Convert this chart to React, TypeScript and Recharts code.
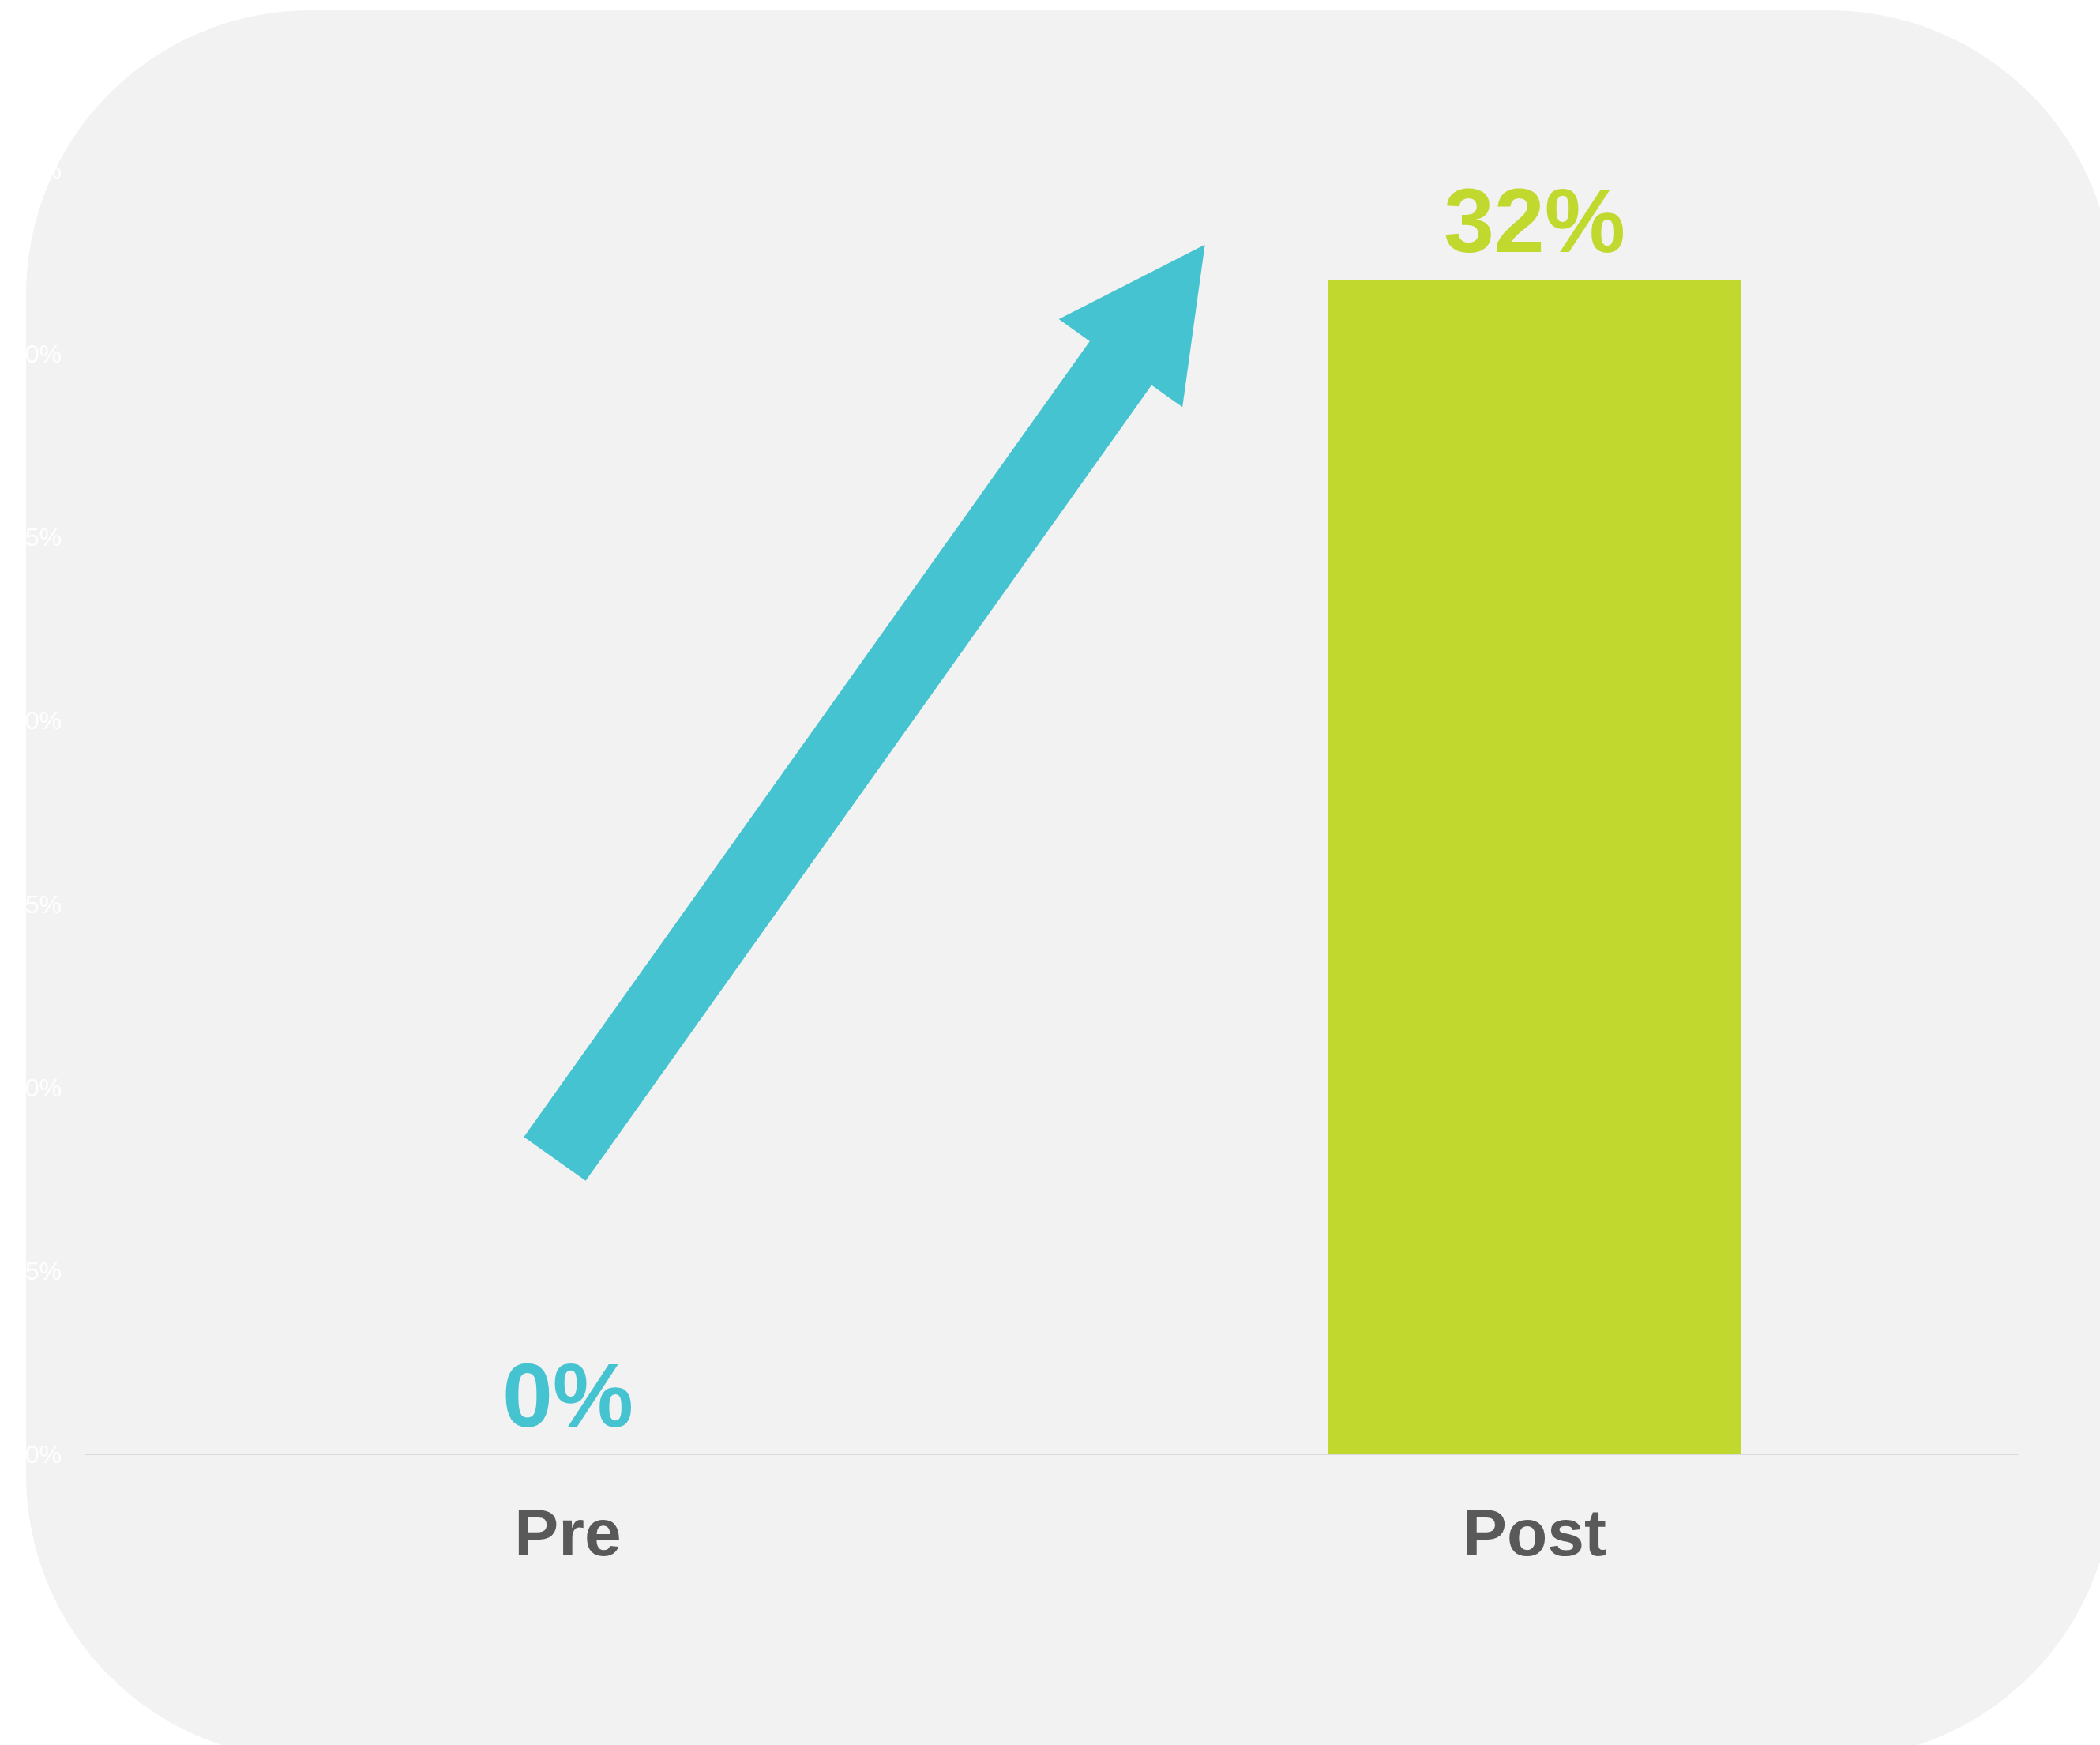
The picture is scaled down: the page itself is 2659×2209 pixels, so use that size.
import { ComposedChart, Bar, Line, XAxis, YAxis, Cell, LabelList, ReferenceLine } from "recharts"

const categories = ["Pre", "Post"]
const values = [0, 32]
const barColors = ["#45c3d0", "#c1d82f"]
const yTicks = [0, 5, 10, 15, 20, 25, 30, 35]

// arrow annotation, x in category units (0 = Pre, 1 = Post), y in %
const arrowFrom = { x: -0.0135, y: 8.05 }
const arrowTo = { x: 0.659, y: 32.96 }

const data = categories.map((name, i) => ({ name, value: values[i] }))

// hidden numeric axis spans the plot width: 0 = left edge, 1 = right edge
const toPlot = (p: { x: number; y: number }) => ({ x: (p.x + 0.5) / categories.length, y: p.y })

const FONT = "'Liberation Sans', Arial, sans-serif"

const ArrowShape = (props: any) => {
  const { x1, y1, x2, y2 } = props
  const dx = x2 - x1
  const dy = y2 - y1
  const len = Math.hypot(dx, dy)
  const ux = dx / len
  const uy = dy / len
  const px = -uy
  const py = ux
  const shaft = 48
  const head = 96
  const headLen = 184
  const bx = x2 - ux * headLen
  const by = y2 - uy * headLen
  const pts = [
    [x1 + px * shaft, y1 + py * shaft],
    [bx + px * shaft, by + py * shaft],
    [bx + px * head, by + py * head],
    [x2, y2],
    [bx - px * head, by - py * head],
    [bx - px * shaft, by - py * shaft],
    [x1 - px * shaft, y1 - py * shaft],
  ]
  return <polygon points={pts.map((p) => p.join(",")).join(" ")} fill="#45c3d0" />
}

const ValueLabel = (props: any) => {
  const { x, y, value, index } = props
  return (
    <text
      x={x}
      y={y - 35}
      textAnchor="middle"
      fill={barColors[index]}
      fontFamily={FONT}
      fontWeight="bold"
      fontSize={115}
    >
      {value}%
    </text>
  )
}

export default function App() {
  return (
    <div
      style={{
        position: "absolute",
        left: 0,
        top: 0,
        width: 2659,
        height: 2209,
        overflow: "hidden",
        background: "#ffffff",
      }}
    >
      <div
        style={{
          position: "absolute",
          left: 33,
          top: 13,
          width: 2643,
          height: 2214,
          borderRadius: 360,
          background: "#f2f2f2",
        }}
      />
      <div style={{ position: "absolute", left: 0, top: 0 }}>
        <ComposedChart width={2659} height={2209} data={data} margin={{ top: 215, right: 104, bottom: 268, left: 0 }}>
          <XAxis
            dataKey="name"
            axisLine={{ stroke: "#d9d9d9", strokeWidth: 2 }}
            tickLine={false}
            tickSize={0}
            tickMargin={68}
            height={100}
            tick={{ fill: "#595959", fontSize: 84, fontWeight: "bold", fontFamily: FONT }}
          />
          <XAxis xAxisId="arrow" type="number" domain={[0, 1]} allowDataOverflow hide />
          <YAxis
            domain={[0, 35]}
            ticks={yTicks}
            width={107}
            axisLine={false}
            tickLine={false}
            tickSize={0}
            tickMargin={29}
            tickFormatter={(v) => `${v}%`}
            tick={{ fill: "#ffffff", fontSize: 32, fontFamily: FONT }}
          />
          <Bar dataKey="value" barSize={524} isAnimationActive={false}>
            {data.map((d, i) => (
              <Cell key={d.name} fill={barColors[i]} />
            ))}
          </Bar>
          <Line dataKey="value" stroke="none" dot={false} activeDot={false} isAnimationActive={false}>
            <LabelList dataKey="value" content={<ValueLabel />} />
          </Line>
          <ReferenceLine
            xAxisId="arrow"
            segment={[toPlot(arrowFrom), toPlot(arrowTo)]}
            ifOverflow="visible"
            shape={<ArrowShape />}
          />
        </ComposedChart>
      </div>
    </div>
  )
}
